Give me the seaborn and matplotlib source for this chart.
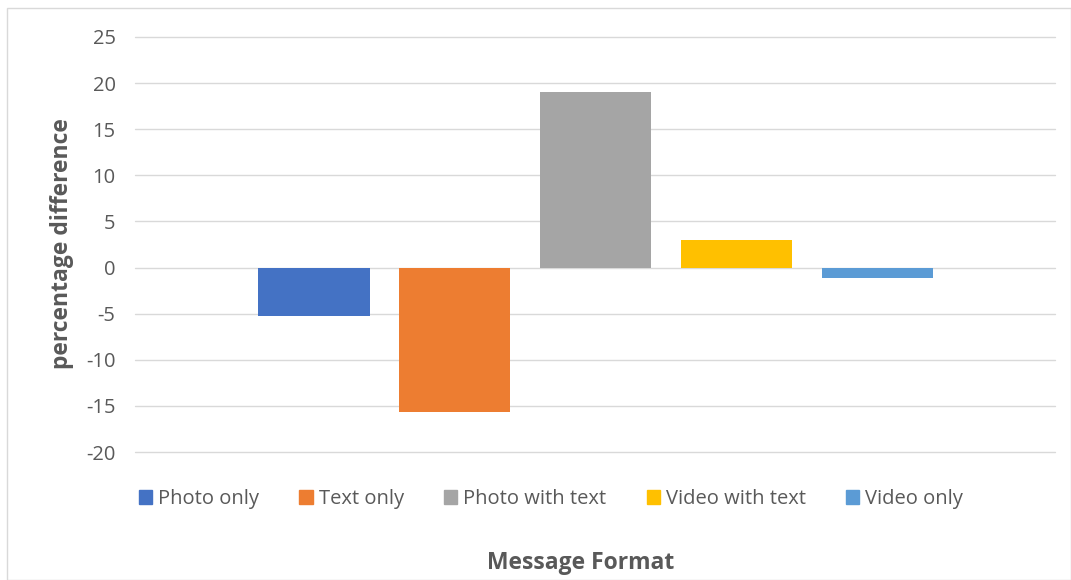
import matplotlib
matplotlib.use("Agg")
import matplotlib.pyplot as plt
import matplotlib.patches as mpatches
import pandas as pd
import seaborn as sns

# ── Dados ─────────────────────────────────────────────────────────────────────
formats = ["Photo only", "Text only", "Photo with text", "Video with text", "Video only"]
pct_diff = [-5.2, -15.7, 19.0, 3.0, -1.1]
colors = ["#4472C4", "#ED7D31", "#A5A5A5", "#FFC000", "#5B9BD5"]
yticks = [-20, -15, -10, -5, 0, 5, 10, 15, 20, 25]

df = pd.DataFrame({"format": formats, "value": pct_diff})

sns.set_style("white")
plt.rcParams["font.family"] = ["Open Sans", "DejaVu Sans"]
TXT = "#595959"

fig = plt.figure(figsize=(10.71, 5.8), dpi=100)
ax = fig.add_axes([135 / 1071, 1 - 452 / 580, 920 / 1071, 415 / 580])

sns.barplot(data=df, x="format", y="value", hue="format", order=formats,
            hue_order=formats, palette=colors, width=0.79, dodge=False,
            legend=False, ax=ax, saturation=1, linewidth=0)

ax.set_xlim(-1.27, 5.26)
ax.set_ylim(-20, 25)
ax.set_yticks(yticks)
ax.set_yticklabels([str(t) for t in yticks], fontsize=14.5, color=TXT)
ax.set_xticks([])
ax.tick_params(axis="y", length=0, pad=14)
ax.grid(axis="y", color="#D9D9D9", linewidth=1)
for gl in ax.get_ygridlines():
    gl.set_clip_on(False)
ax.set_axisbelow(True)
for s in ax.spines.values():
    s.set_visible(False)
ax.set_xlabel("")
ax.set_ylabel("")

fig.text(62 / 1071, 1 - 244 / 580, "percentage difference", rotation=90,
         ha="center", va="center", fontsize=16.5, fontweight="bold", color=TXT)
fig.text(581 / 1071, 1 - 563 / 580, "Message Format", ha="center", va="center",
         fontsize=16.5, fontweight="bold", color=TXT)

handles = [mpatches.Patch(color=c, label=f) for f, c in zip(formats, colors)]
fig.legend(handles=handles, loc="center", bbox_to_anchor=(551 / 1071, 1 - 499 / 580),
           ncol=5, frameon=False, fontsize=14.5, labelcolor=TXT,
           handlelength=0.65, handleheight=0.75, handletextpad=0.3, columnspacing=2.0)

# borda do gráfico
fig.patches.append(mpatches.Rectangle((7 / 1071, 0), 1 - 7 / 1071, 1 - 8 / 580,
                                      transform=fig.transFigure, fill=False,
                                      edgecolor="#D9D9D9", linewidth=1))

fig.savefig("out.png", dpi=100)
